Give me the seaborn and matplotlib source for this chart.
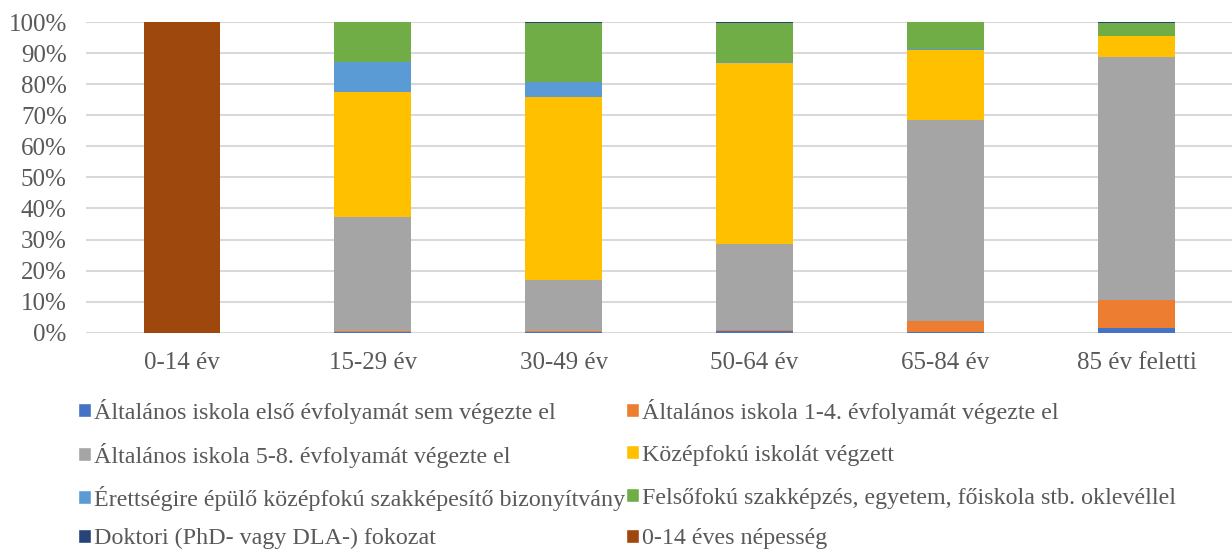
import pandas as pd
import matplotlib
matplotlib.use('Agg')
import matplotlib.pyplot as plt
import seaborn as sns
from matplotlib.patches import Patch
from matplotlib.ticker import PercentFormatter

# Korcsoportok
korcsoportok = ['0-14 év', '15-29 év', '30-49 év', '50-64 év', '65-84 év', '85 év feletti']

# Sorozatok (százalék)
sorozatok = [
    'Általános iskola első évfolyamát sem végezte el',
    'Általános iskola 1-4. évfolyamát végezte el',
    'Általános iskola 5-8. évfolyamát végezte el',
    'Középfokú iskolát végzett',
    'Érettségire épülő középfokú szakképesítő bizonyítvány',
    'Felsőfokú szakképzés, egyetem, főiskola stb. oklevéllel',
    'Doktori (PhD- vagy DLA-) fokozat',
    '0-14 éves népesség',
]
elso_sem = [0, 0.1, 0.1, 0.6, 0.4, 1.6]
ev_1_4 = [0, 0.5, 0.6, 0.3, 3.5, 9.0]
ev_5_8 = [0, 36.7, 16.3, 27.7, 64.6, 78.1]
kozepfoku = [0, 40.2, 58.9, 58.2, 22.5, 6.8]
erettsegi_szakk = [0, 9.6, 4.8, 0.5, 0.2, 0.1]
felsofoku = [0, 12.8, 18.9, 12.4, 8.7, 4.2]
doktori = [0, 0.1, 0.4, 0.3, 0.1, 0.2]
nepesseg_0_14 = [100, 0, 0, 0, 0, 0]

ertekek = [elso_sem, ev_1_4, ev_5_8, kozepfoku, erettsegi_szakk, felsofoku, doktori, nepesseg_0_14]
szinek = ['#4472C4', '#ED7D31', '#A5A5A5', '#FFC000', '#5B9BD5', '#70AD47', '#264478', '#9E480E']

df = pd.DataFrame({s: v for s, v in zip(sorozatok, ertekek)}, index=korcsoportok)
kum = df.cumsum(axis=1) / 100

sns.set_style('white')
plt.rcParams['font.family'] = ['Liberation Serif', 'DejaVu Serif']
szoveg_szin = '#595959'

fig = plt.figure(figsize=(12.32, 5.51), dpi=100)
ax = fig.add_axes([0.07, 0.396, 0.93, 0.564])

# Halmozott oszlopok: a kumulált értékeket fentről lefelé rajzoljuk
for s, szin in reversed(list(zip(sorozatok, szinek))):
    sns.barplot(x=korcsoportok, y=kum[s].values, color=szin, width=0.4,
                saturation=1, ax=ax, zorder=2, linewidth=0, edgecolor='none')

ax.set_ylim(0, 1)
ax.set_xlim(-0.5, 5.5)
ax.set_yticks([i / 10 for i in range(11)])
ax.yaxis.set_major_formatter(PercentFormatter(1.0, decimals=0))
ax.yaxis.grid(True, color='#D9D9D9', linewidth=1.5, zorder=0)
ax.set_axisbelow(True)
for sp in ax.spines.values():
    sp.set_visible(False)
ax.tick_params(axis='both', length=0, labelsize=18, colors=szoveg_szin)
ax.tick_params(axis='x', pad=14)
ax.tick_params(axis='y', pad=14)
ax.set_xlabel('')
ax.set_ylabel('')

# Jelmagyarázat: két oszlop, soronként igazítva (minden elem külön)
oszlop_x = [0.063, 0.508]
sor_y = [0.254, 0.174, 0.096, 0.022]
for i, (s, c) in enumerate(zip(sorozatok, szinek)):
    fig.legend(handles=[Patch(facecolor=c, label=s)], loc='center left',
               bbox_to_anchor=(oszlop_x[i % 2], sor_y[i // 2]), frameon=False,
               fontsize=17.3, handlelength=0.55, handleheight=0.55,
               handletextpad=0.12, labelcolor=szoveg_szin,
               borderpad=0, borderaxespad=0)

fig.savefig('out.png', dpi=100)
